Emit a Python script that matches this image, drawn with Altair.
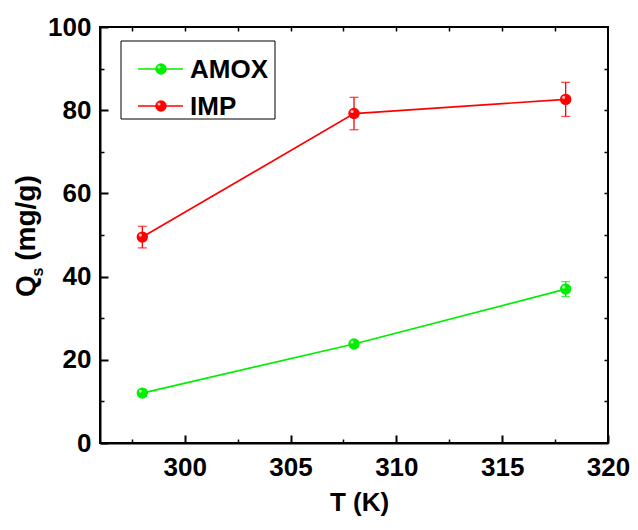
import altair as alt
import pandas as pd

# ---- data ----
T = [298, 308, 318]
series_names = ["AMOX", "IMP"]
series_colors = ["#00ee00", "#ff0000"]
amox = [12.0, 23.8, 37.0]
amox_err = [0.8, 0.8, 1.8]
imp = [49.5, 79.2, 82.6]
imp_err = [2.6, 3.9, 4.1]

x_major = [300, 305, 310, 315, 320]
x_minor = [297.5, 302.5, 307.5, 312.5, 317.5]
x_all = [297.5, 300, 302.5, 305, 307.5, 310, 312.5, 315, 317.5]
y_major = [0, 20, 40, 60, 80, 100]
y_minor = [10, 30, 50, 70, 90]
y_all = [10, 20, 30, 40, 50, 60, 70, 80, 90]

x_title = "T (K)"
y_title_main = "Q"
y_title_sub = "s"
y_title_unit = "(mg/g)"

rows = []
for name, vals, errs in zip(series_names, [amox, imp], [amox_err, imp_err]):
    for t, v, e in zip(T, vals, errs):
        rows.append({"series": name, "T": t, "Q": v, "lo": v - e, "hi": v + e})
df = pd.DataFrame(rows)

FONT = "Liberation Sans"
W, H = 508, 416

xs = alt.Scale(domain=[296, 320], nice=False, zero=False)
ys = alt.Scale(domain=[0, 100], nice=False, zero=False)
color = alt.Color("series:N", scale=alt.Scale(domain=series_names, range=series_colors), legend=None)

X = alt.X("T:Q", scale=xs, axis=None)
Y = alt.Y("Q:Q", scale=ys, axis=None)

base = alt.Chart(df)

line = base.mark_line(strokeWidth=1.7).encode(x=X, y=Y, color=color)
err_rule = base.mark_rule(strokeWidth=1.3).encode(
    x=X, y=alt.Y("lo:Q", scale=ys, axis=None), y2="hi:Q", color=color)
cap_lo = base.mark_tick(orient="horizontal", size=9, thickness=1.3).encode(
    x=X, y=alt.Y("lo:Q", scale=ys, axis=None), color=color)
cap_hi = base.mark_tick(orient="horizontal", size=9, thickness=1.3).encode(
    x=X, y=alt.Y("hi:Q", scale=ys, axis=None), color=color)
pts = base.mark_circle(size=130, opacity=1).encode(x=X, y=Y, color=color)
hl = base.mark_circle(size=10, color="white", opacity=0.7, xOffset=-2, yOffset=-2).encode(x=X, y=Y)

one = pd.DataFrame({"k": [0]})

# ---- legend (decoration) ----
leg_layers = [
    alt.Chart(one).mark_rect(fill="white", stroke="black", strokeWidth=1).encode(
        x=alt.value(21), x2=alt.value(175), y=alt.value(14), y2=alt.value(92))
]
for i, (name, col) in enumerate(zip(series_names, series_colors)):
    yy = 42 + i * 37
    leg_layers.append(alt.Chart(one).mark_rule(color=col, strokeWidth=1.7).encode(
        x=alt.value(38), x2=alt.value(83), y=alt.value(yy)))
    leg_layers.append(alt.Chart(one).mark_circle(color=col, size=130, opacity=1).encode(
        x=alt.value(61), y=alt.value(yy)))
    leg_layers.append(alt.Chart(one).mark_circle(color="white", size=10, opacity=0.7).encode(
        x=alt.value(59), y=alt.value(yy - 2)))
    leg_layers.append(alt.Chart(one).mark_text(
        text=name, align="left", baseline="alphabetic", font=FONT, fontSize=26,
        fontWeight="bold", color="black").encode(x=alt.value(90), y=alt.value(yy + 9)))

# ---- y-axis title with subscript (text marks) ----
ytitle = [
    alt.Chart(one).mark_text(text=y_title_main, angle=270, align="center", baseline="alphabetic",
                             font=FONT, fontSize=28, fontWeight="bold", color="black").encode(
        x=alt.value(-65), y=alt.value(259)),
    alt.Chart(one).mark_text(text=y_title_sub, angle=270, align="center", baseline="alphabetic",
                             font=FONT, fontSize=16, fontWeight="bold", color="black").encode(
        x=alt.value(-57), y=alt.value(245)),
    alt.Chart(one).mark_text(text=y_title_unit, angle=270, align="center", baseline="alphabetic",
                             font=FONT, fontSize=28, fontWeight="bold", color="black").encode(
        x=alt.value(-65), y=alt.value(191)),
]

data_layer = alt.layer(line, err_rule, cap_lo, cap_hi, pts, hl, *leg_layers, *ytitle)

# ---- axes layers ----
lab = dict(labelFont=FONT, labelFontSize=26, labelFontWeight="bold", labelColor="black")
ttl = dict(titleFont=FONT, titleFontSize=26, titleFontWeight="bold", titleColor="black")

ax_x_major = alt.Axis(orient="bottom", values=x_major, title=x_title, tickSize={"expr": "-8"},
                      tickWidth=2, tickColor="black", domainColor="black", domainWidth=2,
                      labelPadding=19, labelFlush=False, labelOverlap=False, grid=False,
                      titleBaseline="alphabetic", titleY=67, titleX=259, **lab, **ttl)
ax_y_major = alt.Axis(orient="left", values=y_major, title=None, tickSize={"expr": "-8"},
                      tickWidth=2, tickColor="black", domainColor="black", domainWidth=2,
                      labelPadding=17, labelFlush=False, labelOverlap=False, grid=False, **lab)
ax_x_minor = alt.Axis(orient="bottom", values=x_minor, title=None, labels=False, domain=False,
                      tickSize={"expr": "-4"}, tickWidth=1.5, tickColor="black", grid=False)
ax_y_minor = alt.Axis(orient="left", values=y_minor, title=None, labels=False, domain=False,
                      tickSize={"expr": "-4"}, tickWidth=1.5, tickColor="black", grid=False)
ax_x_top = alt.Axis(orient="top", values=x_all, title=None, labels=False, domain=False,
                    tickSize={"expr": "-4"}, tickWidth=1.5, tickColor="black", grid=False)
ax_y_right = alt.Axis(orient="right", values=y_all, title=None, labels=False, domain=False,
                      tickSize={"expr": "-4"}, tickWidth=1.5, tickColor="black", grid=False)

def axis_layer(ax_x, ax_y):
    return base.mark_point(opacity=0).encode(
        x=alt.X("T:Q", scale=xs, axis=ax_x), y=alt.Y("Q:Q", scale=ys, axis=ax_y))

chart = alt.layer(
    data_layer,
    axis_layer(ax_x_major, ax_y_major),
    axis_layer(ax_x_minor, ax_y_minor),
    axis_layer(ax_x_top, ax_y_right),
).resolve_axis(x="independent", y="independent").properties(
    width=W, height=H,
    autosize=alt.AutoSizeParams(type="none"),
    padding={"left": 92, "top": 19, "right": 22, "bottom": 74},
).configure_view(stroke="black", strokeWidth=2)

chart.save("out.html", embed_options={"renderer": "svg", "actions": False})
